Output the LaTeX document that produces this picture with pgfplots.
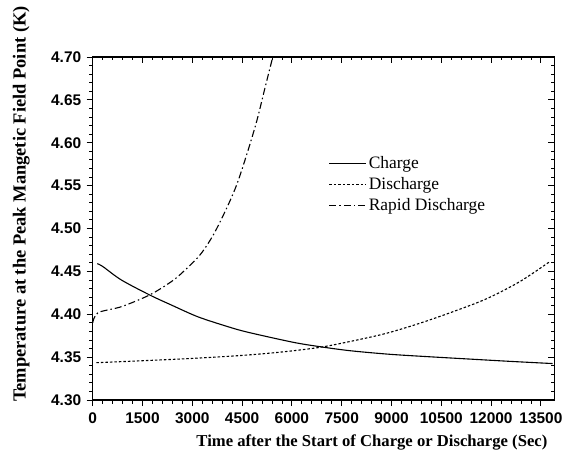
\documentclass[border=0pt]{standalone}
\usepackage{fontspec}
\setmainfont{Liberation Serif}
\newfontfamily\arialfont{Liberation Sans}
\usepackage{pgfplots}
\pgfplotsset{compat=1.18}

\begin{document}
\begin{tikzpicture}
    % common box for both axes
    \pgfplotsset{
        boxaxis/.style={
            at={(92.7bp,60bp)}, anchor=south west,
            scale only axis,
            width=461.5bp, height=343bp,
            xmin=0, xmax=13900,
            ymin=4.30, ymax=4.70,
            xtick={0,1500,...,13500},
            ytick={4.30,4.35,...,4.70},
            scaled ticks=false,
            minor x tick num=4,
            minor y tick num=4,
            major tick length=6bp,
            minor tick length=3.5bp,
            axis line style={line width=1bp},
            every tick/.style={line width=0.9bp, black},
        }
    }

    \begin{axis}[
            boxaxis,
            tick align=outside,
            xtick pos=left, ytick pos=left,
            tick label style={font=\arialfont\bfseries\fontsize{15.5}{17}\selectfont},
            /pgf/number format/assume math mode=true,
            xticklabel style={/pgf/number format/1000 sep={}, yshift=-3bp},
            yticklabel style={/pgf/number format/fixed, /pgf/number format/fixed zerofill,
                              /pgf/number format/precision=2, xshift=-2bp},
            xlabel={Time after the Start of Charge or Discharge (Sec)},
            ylabel={Temperature at the Peak Mangetic Field Point (K)},
            xlabel style={font=\bfseries\fontsize{16.7}{19}\selectfont,
                          at={(axis description cs:0.605,-0.1225)}, anchor=center},
            ylabel style={font=\bfseries\fontsize{18.5}{21}\selectfont,
                          at={(axis description cs:-0.155,0.571)}, anchor=center},
            legend style={
                at={(axis description cs:0.511,0.722)}, anchor=north west,
                draw=none, fill=none,
                font=\fontsize{17.5}{19}\selectfont,
                row sep=3.5bp,
                inner xsep=0bp,
                cells={anchor=west},
            },
            legend image code/.code={\draw[#1] (0bp,0bp) -- (37bp,0bp);},
        ]

        % Charge
        \addplot[black, line width=1.1bp, smooth] coordinates {
            (139,4.459) (310,4.4555) (862,4.4400) (1715,4.4225) (2367,4.4108)
            (3170,4.3970) (4073,4.3855) (4675,4.3790) (6038,4.3673) (6842,4.3622)
            (7745,4.3575) (8949,4.3533) (10200,4.3503) (11457,4.3475) (12600,4.3450)
            (13850,4.3425)
        };

        % Discharge
        \addplot[black, line width=1.1bp, smooth, dash pattern=on 2.5bp off 2bp] coordinates {
            (110,4.3435) (1500,4.3458) (3000,4.3485) (4500,4.3520) (5700,4.3560)
            (6842,4.3614) (7845,4.3690) (8849,4.3778) (9852,4.3895) (10855,4.4030)
            (11859,4.4180) (12862,4.4380) (13765,4.4613)
        };

        % Rapid Discharge
        \addplot[black, line width=1.1bp, smooth, dash pattern=on 7bp off 3bp on 1.5bp off 3bp] coordinates {
            (0,4.3900) (160,4.4018) (862,4.4088) (1715,4.4225) (2367,4.4380)
            (2728,4.4496) (3230,4.4691) (3631,4.4924) (4033,4.5236) (4334,4.5507)
            (4635,4.5857) (4936,4.6246) (5186,4.6635) (5388,4.6946) (5420,4.7000)
        };

        \legend{Charge, Discharge, Rapid Discharge}
    \end{axis}

    % mirrored ticks on top and right, pointing inward
    \begin{axis}[
            boxaxis,
            tick align=inside,
            xtick pos=right, ytick pos=right,
            xticklabels={}, yticklabels={},
        ]
    \end{axis}

    \pgfresetboundingbox
    \path[use as bounding box] (0,0) rectangle (563bp,460bp);
\end{tikzpicture}
\end{document}
